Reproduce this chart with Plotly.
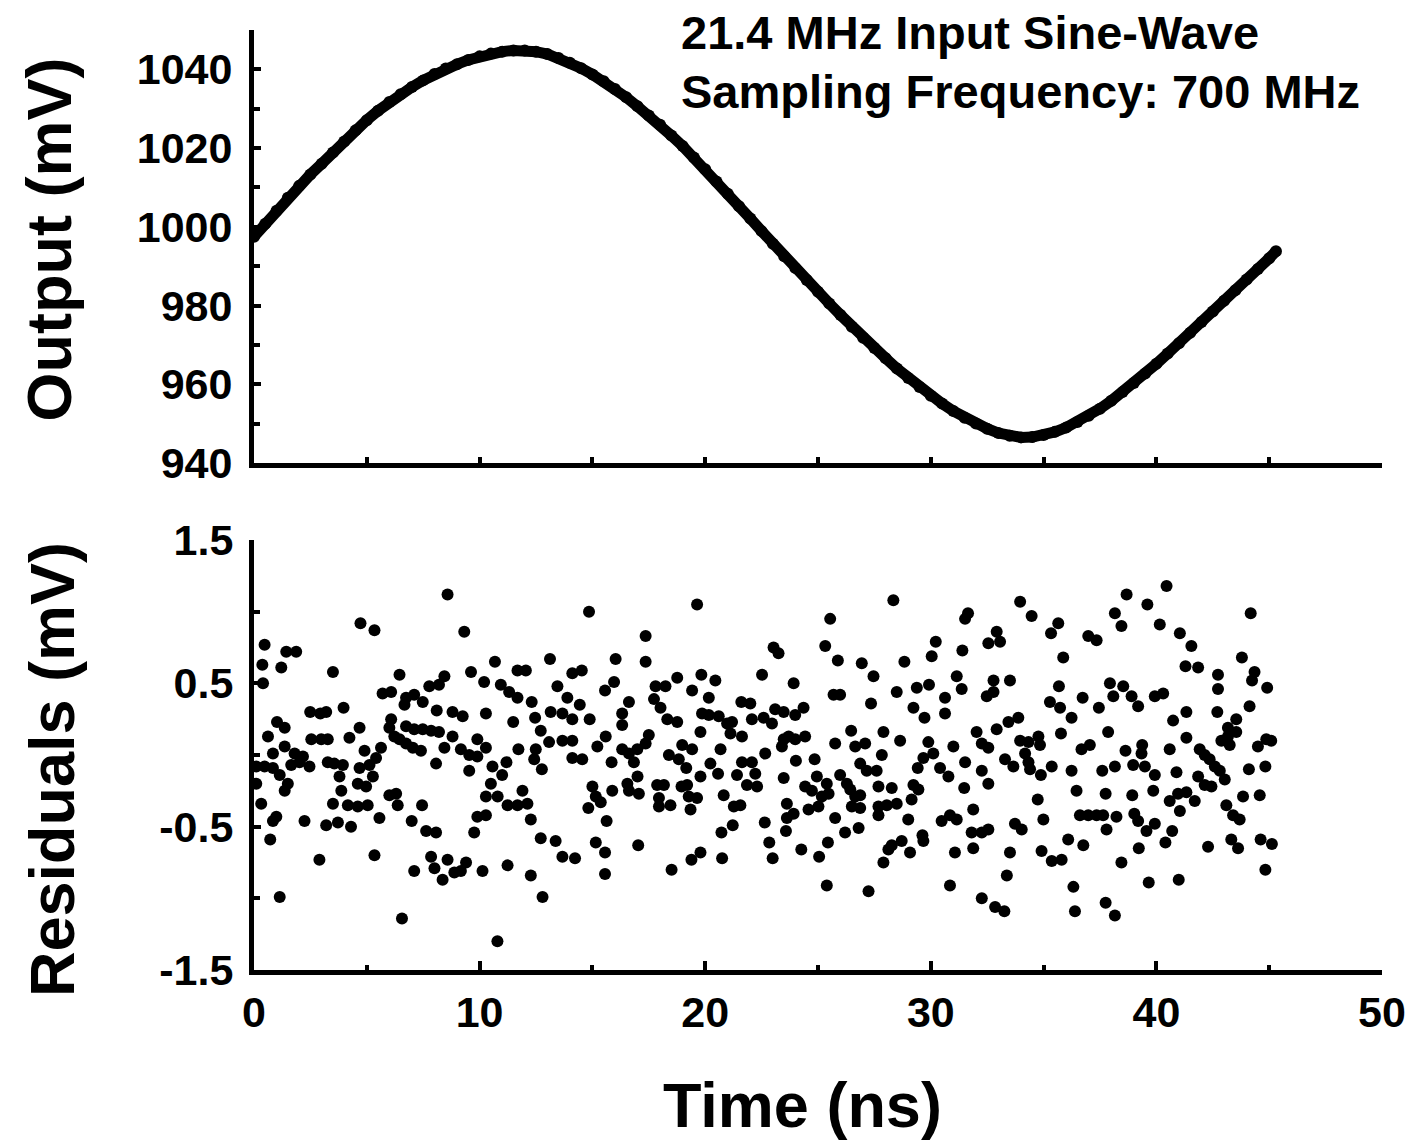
import plotly.graph_objects as go
from plotly.subplots import make_subplots

output_time = [0, 0.5, 1, 1.5, 2, 2.5, 3, 3.5, 4, 4.5, 5, 5.5, 6, 6.5, 7, 7.5, 8, 8.5, 9, 9.5,
               10, 10.5, 11, 11.5, 12, 12.5, 13, 13.5, 14, 14.5, 15, 15.5, 16, 16.5, 17, 17.5, 18, 18.5, 19, 19.5,
               20, 20.5, 21, 21.5, 22, 22.5, 23, 23.5, 24, 24.5, 25, 25.5, 26, 26.5, 27, 27.5, 28, 28.5, 29, 29.5,
               30, 30.5, 31, 31.5, 32, 32.5, 33, 33.5, 34, 34.5, 35, 35.5, 36, 36.5, 37, 37.5, 38, 38.5, 39, 39.5,
               40, 40.5, 41, 41.5, 42, 42.5, 43, 43.5, 44, 44.5, 45, 45.3]
output_mv = [997.5, 1000.8, 1004.1, 1007.4, 1010.4, 1013.3, 1016.0, 1018.9, 1021.7, 1024.5,
             1027.1, 1029.5, 1031.7, 1033.7, 1035.5, 1037.2, 1038.8, 1040.2, 1041.3, 1042.4,
             1043.3, 1044.0, 1044.5, 1044.8, 1044.8, 1044.5, 1043.9, 1042.9, 1041.7, 1040.3,
             1038.7, 1037.0, 1035.0, 1032.9, 1030.6, 1028.3, 1025.9, 1023.2, 1020.5, 1017.6,
             1014.6, 1011.5, 1008.4, 1005.2, 1002.1, 998.9, 995.7, 992.5, 989.5, 986.5,
             983.5, 980.5, 977.6, 974.6, 971.8, 969.2, 966.6, 964.0, 961.6, 959.3,
             957.1, 955.1, 953.2, 951.5, 950.0, 948.7, 947.6, 946.9, 946.5, 946.6,
             947.1, 947.9, 949.0, 950.4, 952.0, 953.8, 955.8, 958.0, 960.3, 962.7,
             965.2, 967.8, 970.4, 973.1, 975.8, 978.5, 981.2, 983.9, 986.6, 989.3,
             992.0, 993.8]

# bottom panel: residuals of the sine fit (mV)
resid_time = [
    8.58, 4.72, 5.34, 9.32, 0.47, 1.43, 1.87, 0.37, 1.21, 0.40, 3.50, 6.45, 8.44, 9.62, 5.70, 6.08,
    7.77, 8.20, 6.74, 7.10, 7.48, 6.67, 2.49, 2.94, 3.20, 3.97, 1.02, 1.36, 0.62, 1.36, 0.84, 6.08,
    6.00, 4.68, 4.23, 2.54, 2.98, 3.27, 6.22, 6.45, 6.74, 7.04, 7.40, 6.74, 7.10, 7.48, 7.85, 8.20,
    8.10, 8.80, 9.25, 8.80, 8.44, 8.07, 9.17, 9.54, 9.90, 9.90, 9.54, 1.80, 2.17, 1.65, 2.46, 2.02,
    0.10, 0.47, 0.84, 1.14, 1.50, 1.36, 0.10, 0.32, 0.99, 0.84, 0.72, 2.90, 1.14, 2.24, 3.20, 3.72,
    4.30, 3.50, 3.87, 3.27, 3.56, 3.94, 3.79, 4.16, 4.60, 5.04, 4.90, 4.68, 5.27, 4.97, 4.60, 5.63,
    5.41, 5.12, 5.56, 5.34, 6.00, 6.30, 6.37, 6.99, 7.45, 7.63, 8.07, 7.85, 8.00, 8.36, 8.58, 8.88,
    9.17, 9.40, 7.10, 6.56, 9.76, 9.90,
    14.85, 19.64, 17.36, 17.36, 16.03, 13.12, 10.68, 10.20, 11.68, 12.05, 10.94, 11.31, 11.68, 13.45,
    14.11, 14.53, 13.89, 12.31, 10.28, 14.44, 15.56, 15.96, 16.62, 19.83, 20.45, 19.42, 17.80, 18.24,
    18.76, 17.73, 18.02, 20.16, 21.60, 19.86, 20.16, 20.60, 20.97, 21.19, 21.12, 18.32, 18.76, 11.49,
    12.46, 13.15, 13.67, 14.11, 12.71, 14.88, 16.32, 16.32, 19.79, 10.28, 11.72, 12.49, 13.08, 13.67,
    14.11, 12.42, 12.76, 14.11, 14.55, 15.22, 15.59, 15.85, 16.32, 16.62, 16.99, 17.36, 17.50, 16.84,
    18.39, 18.83, 18.98, 19.42, 19.16, 20.68, 20.23, 20.57, 21.41, 19.79, 10.57, 11.00, 10.50, 11.19,
    10.28, 10.80, 11.24, 11.68, 11.90, 12.12, 10.28, 12.27, 12.71, 13.37, 13.67, 14.23, 12.27, 11.24,
    10.13, 12.79, 10.79, 14.82, 15.15, 15.00, 15.37, 15.88, 15.63, 15.15, 15.56, 15.56, 16.55, 17.00,
    16.62, 17.06, 17.03, 17.87, 18.17, 17.95, 17.95, 18.46, 18.51, 18.95, 19.20, 19.27, 19.64, 19.35,
    19.79, 19.39, 20.75, 20.82, 20.72, 21.22, 21.27, 21.56,
    28.34, 25.54, 31.52, 31.65, 23.03, 23.25, 25.32, 25.88, 26.94, 27.46, 30.22, 30.04, 28.83, 31.40,
    31.15, 31.37, 22.52, 23.92, 22.00, 25.69, 25.98, 28.49, 29.38, 29.92, 30.63, 29.23, 29.72, 30.63,
    27.35, 21.63, 22.07, 22.59, 22.96, 23.10, 23.48, 23.99, 24.36, 23.48, 23.70, 23.99, 24.43, 23.40,
    22.66, 25.76, 26.47, 26.65, 27.09, 27.90, 27.83, 28.64, 29.89, 30.11, 29.67, 31.00, 32.03, 31.52,
    21.63, 22.07, 22.22, 21.85, 22.30, 24.02, 24.85, 23.48, 24.95, 25.39, 24.43, 24.73, 25.17, 25.02,
    24.58, 25.47, 25.98, 26.28, 26.43, 26.87, 27.16, 27.60, 27.68, 28.27, 29.42, 29.23, 29.45, 29.15,
    30.41, 30.78, 31.48, 23.62, 23.92, 23.62, 25.76, 26.65, 26.87, 26.50, 26.87, 27.68, 27.68, 28.05,
    28.49, 29.00, 30.48, 30.85, 31.15, 31.88, 31.81, 22.64, 23.58, 26.20, 26.80, 22.84, 22.99, 24.26,
    25.44, 25.05, 27.90, 28.12, 28.27, 28.71, 29.08, 29.63, 29.67, 31.07, 31.88, 30.85, 25.39, 27.24,
    40.45, 38.68, 38.16, 38.45, 39.60, 40.15, 41.04, 41.55, 44.18, 33.96, 34.47, 35.65, 35.33, 32.92,
    32.55, 33.07, 36.98, 37.35, 35.87, 41.29, 41.85, 42.73, 42.73, 43.79, 44.35, 44.24, 44.91, 32.78,
    33.51, 32.48, 32.78, 35.68, 37.94, 38.53, 38.09, 38.90, 39.19, 39.93, 40.30, 35.28, 35.73, 36.73,
    37.45, 36.24, 41.33, 42.70, 44.13, 43.54, 40.74, 33.88, 33.44, 32.92, 37.86, 35.77, 41.33, 43.17,
    43.54, 42.88, 43.25, 43.17, 44.50, 44.87, 45.09, 32.26, 32.55, 33.96, 34.33, 34.77, 34.84, 34.18,
    34.33, 34.40, 34.88, 35.36, 33.29, 33.66, 36.68, 37.05, 38.63, 39.37, 39.34, 40.59, 41.92, 42.14,
    42.36, 42.59, 42.81, 43.03, 41.85, 42.14, 42.44, 36.24, 37.60, 38.16, 38.97, 39.49, 39.93, 40.89,
    44.10, 44.83, 32.26, 32.55, 36.46, 37.75, 38.93, 39.86, 40.59, 40.96, 41.33, 41.70, 41.04, 43.84,
    44.58, 43.10, 43.40, 43.69, 34.74, 36.61, 36.98, 37.35, 37.64, 38.23, 39.02, 39.19, 39.56, 39.93,
    37.79, 40.70, 40.40, 39.22, 34.99, 33.73, 34.03, 32.26, 32.55, 36.09, 36.76, 34.91, 35.36, 35.80,
    33.51, 38.45, 42.29, 43.32, 43.62, 44.62, 45.12, 44.83, 33.37, 36.32, 39.66, 40.99, 32.26, 32.85,
    33.26, 36.39, 37.75, 38.16,
]
resid_mv = [
    1.12, 0.92, 0.87, 0.86, 0.77, 0.72, 0.72, 0.63, 0.61, 0.50, 0.58, 0.56, 0.55, 0.58, 0.43, 0.44,
    0.48, 0.49, 0.40, 0.42, 0.37, 0.35, 0.30, 0.29, 0.30, 0.33, 0.23, 0.19, 0.13, 0.06, 0.01, 0.25,
    0.19, 0.19, 0.12, 0.11, 0.11, 0.11, 0.13, 0.11, 0.08, 0.05, 0.03, 0.20, 0.18, 0.18, 0.17, 0.16,
    0.31, 0.30, 0.27, 0.13, 0.05, -0.06, 0.04, 0.00, -0.01, 0.11, -0.11, 0.01, -0.01, -0.07, -0.08, -0.05,
    -0.08, -0.08, -0.09, -0.14, -0.20, -0.25, -0.20, -0.34, -0.43, -0.46, -0.59, -0.73, -0.99, -0.46, -0.49, -0.47,
    -0.50, -0.34, -0.25, -0.05, -0.06, -0.07, -0.15, -0.35, -0.36, -0.35, 0.03, -0.09, -0.15, -0.22, -0.20, 0.05,
    -0.02, -0.07, -0.44, -0.70, -0.28, -0.27, -0.35, -0.46, -0.35, -0.53, -0.54, -0.71, -0.79, -0.87, -0.73, -0.82,
    -0.81, -0.75, -0.81, -1.14, -0.54, -0.43,
    1.00, 1.05, 0.83, 0.65, 0.67, 0.67, 0.65, 0.51, 0.59, 0.59, 0.49, 0.44, 0.40, 0.48,
    0.57, 0.59, 0.40, 0.37, 0.29, 0.35, 0.45, 0.51, 0.37, 0.56, 0.52, 0.45, 0.48, 0.48,
    0.54, 0.39, 0.33, 0.40, 0.37, 0.29, 0.28, 0.27, 0.22, 0.23, 0.15, 0.25, 0.23, 0.23,
    0.26, 0.30, 0.29, 0.25, 0.17, 0.25, 0.29, 0.21, 0.16, 0.05, 0.04, 0.04, 0.09, 0.10,
    0.10, -0.03, -0.10, -0.02, -0.03, 0.06, 0.13, -0.05, 0.04, 0.01, 0.04, 0.08, 0.14, -0.05,
    0.00, -0.03, 0.07, 0.04, -0.09, 0.04, -0.06, -0.13, -0.14, -0.15, -0.08, -0.14, -0.20, -0.05,
    -0.29, -0.29, -0.35, -0.35, -0.25, -0.34, -0.42, -0.45, -0.58, -0.60, -0.71, -0.72, -0.84, -0.77,
    -0.81, -0.99, -1.30, -0.37, -0.29, -0.22, -0.33, -0.25, -0.46, -0.61, -0.68, -0.83, -0.20, -0.15,
    -0.25, -0.27, -0.63, -0.21, -0.21, -0.30, -0.36, -0.35, -0.80, -0.22, -0.21, -0.29, -0.30, -0.38,
    -0.68, -0.73, -0.72, -0.28, -0.54, -0.49, -0.36, -0.35,
    1.08, 0.95, 0.95, 0.99, 0.75, 0.71, 0.76, 0.66, 0.64, 0.55, 0.79, 0.69, 0.65, 0.73,
    0.55, 0.46, 0.56, 0.50, 0.36, 0.42, 0.42, 0.44, 0.47, 0.49, 0.40, 0.33, 0.26, 0.29,
    0.36, 0.13, 0.25, 0.26, 0.22, 0.32, 0.30, 0.28, 0.33, 0.11, 0.13, 0.11, 0.13, 0.06,
    0.01, 0.08, 0.17, 0.06, 0.08, 0.16, 0.00, 0.10, 0.09, 0.01, -0.02, 0.06, 0.16, -0.05,
    -0.05, -0.05, -0.13, -0.21, -0.22, -0.04, -0.03, -0.16, -0.15, -0.20, -0.22, -0.25, -0.29, -0.36,
    -0.38, -0.27, -0.14, -0.20, -0.24, -0.06, -0.11, -0.11, -0.22, -0.23, -0.09, -0.21, -0.24, -0.31,
    -0.09, -0.15, -0.23, -0.34, -0.41, -0.44, -0.44, -0.29, -0.28, -0.36, -0.37, -0.36, -0.42, -0.35,
    -0.34, -0.45, -0.46, -0.42, -0.45, -0.38, -0.54, -0.47, -0.53, -0.54, -0.51, -0.61, -0.72, -0.66,
    -0.61, -0.71, -0.75, -0.66, -0.63, -0.60, -0.68, -0.56, -0.60, -0.68, -0.65, -0.91, -0.91, -0.95,
    1.18, 1.12, 0.99, 0.90, 1.05, 0.91, 0.85, 0.76, 0.99, 1.07, 0.97, 0.92, 0.85, 0.86,
    0.78, 0.79, 0.83, 0.80, 0.68, 0.62, 0.61, 0.56, 0.46, 0.68, 0.58, 0.52, 0.47, 0.52,
    0.52, 0.41, 0.44, 0.48, 0.50, 0.48, 0.41, 0.41, 0.34, 0.41, 0.43, 0.37, 0.33, 0.40,
    0.33, 0.26, 0.30, 0.30, 0.34, 0.25, 0.24, 0.26, 0.23, 0.18, 0.16, 0.15, 0.12, 0.19,
    0.16, 0.10, 0.07, 0.13, 0.06, 0.11, 0.10, 0.08, 0.05, 0.10, 0.09, 0.13, 0.07, 0.01,
    -0.05, -0.10, -0.14, -0.08, -0.03, -0.08, 0.04, 0.07, 0.03, 0.07, 0.01, 0.04, 0.04, 0.00,
    -0.03, -0.08, -0.11, -0.17, -0.15, -0.21, -0.22, -0.11, -0.11, -0.08, -0.07, -0.08, -0.14, -0.12,
    -0.10, -0.08, -0.11, -0.20, -0.25, -0.27, -0.28, -0.25, -0.32, -0.27, -0.26, -0.32, -0.39, -0.29,
    -0.28, -0.35, -0.42, -0.45, -0.31, -0.42, -0.42, -0.42, -0.42, -0.43, -0.41, -0.46, -0.53, -0.48,
    -0.52, -0.53, -0.61, -0.65, -0.45, -0.48, -0.52, -0.54, -0.52, -0.59, -0.63, -0.67, -0.74, -0.73,
    -0.68, -0.75, -0.64, -0.59, -0.65, -0.59, -0.62, -0.80, -0.84, -0.92, -0.89, -0.87, -1.00, -1.06,
    -1.09, -1.09, -1.03, -1.12,
]

top_ytick_vals = [940, 960, 980, 1000, 1020, 1040]
bottom_ytick_vals = [-1.5, -0.5, 0.5, 1.5]
bottom_ytick_text = ["-1.5", "-0.5", "0.5", "1.5"]
xtick_vals = [0, 10, 20, 30, 40, 50]

FONT = "Liberation Sans"
tickfont = dict(family=FONT, size=43, color="black", weight="bold")

fig = make_subplots(rows=2, cols=1)
fig.add_trace(go.Scatter(x=output_time, y=output_mv, mode="lines+markers",
                         line=dict(color="black", width=11),
                         marker=dict(color="black", size=12)), row=1, col=1)
fig.add_trace(go.Scatter(x=resid_time, y=resid_mv, mode="markers",
                         marker=dict(color="black", size=12)), row=2, col=1)

axis_style = dict(showline=True, linecolor="black", linewidth=5, ticks="inside",
                  tickcolor="black", tickwidth=4, showgrid=False, zeroline=False,
                  automargin=False, tickfont=tickfont)

fig.update_xaxes(axis_style)
fig.update_yaxes(axis_style)

fig.update_xaxes(range=[0, 50], domain=[0, 1], tickvals=[5, 10, 15, 20, 25, 30, 35, 40, 45],
                 ticklen=6, showticklabels=False, row=1, col=1)
fig.update_yaxes(range=[940, 1050], domain=[0.5394, 1], tickvals=top_ytick_vals, ticklen=7,
                 ticklabelstandoff=8,
                 minor=dict(dtick=10, tick0=940, ticks="inside", ticklen=6, tickwidth=4, tickcolor="black"),
                 row=1, col=1)
fig.update_xaxes(range=[0, 50], domain=[0, 1], tickvals=xtick_vals, ticklen=9,
                 ticklabelstandoff=0,
                 minor=dict(dtick=5, tick0=0, ticks="inside", ticklen=5, tickwidth=4, tickcolor="black"),
                 row=2, col=1)
fig.update_yaxes(range=[-1.5, 1.5], domain=[0, 0.4574], tickvals=bottom_ytick_vals,
                 ticktext=bottom_ytick_text, ticklen=7, ticklabelstandoff=7,
                 minor=dict(dtick=0.5, tick0=-1.5, ticks="inside", ticklen=6, tickwidth=4, tickcolor="black"),
                 row=2, col=1)

title_font = dict(family=FONT, size=63, color="black", weight="bold")
note_font = dict(family=FONT, size=47, color="black", weight="bold")

fig.update_layout(
    width=1408, height=1145,
    margin=dict(l=254, r=26, t=30, b=175, autoexpand=False),
    plot_bgcolor="white", paper_bgcolor="white",
    showlegend=False,
    annotations=[
        dict(text="Output (mV)", x=-0.1822, y=0.7777, xref="paper", yref="paper",
             textangle=-90, showarrow=False, font=title_font, xanchor="center", yanchor="middle"),
        dict(text="Residuals (mV)", x=-0.179, y=0.2128, xref="paper", yref="paper",
             textangle=-90, showarrow=False, font=title_font, xanchor="center", yanchor="middle"),
        dict(text="Time (ns)", x=0.4863, y=-0.1436, xref="paper", yref="paper",
             showarrow=False, font=title_font, xanchor="center", yanchor="middle"),
        dict(text="21.4 MHz Input Sine-Wave", x=0.3768, y=0.9978, xref="paper", yref="paper",
             showarrow=False, font=note_font, xanchor="left", yanchor="middle"),
        dict(text="Sampling Frequency: 700 MHz", x=0.3768, y=0.9348, xref="paper", yref="paper",
             showarrow=False, font=note_font, xanchor="left", yanchor="middle"),
    ],
)

# drop the browser's default 8px page margin so the figure fills the window exactly
fig.write_html("out.html", config={"displayModeBar": False},
               post_script="document.body.style.margin = '0px';")
